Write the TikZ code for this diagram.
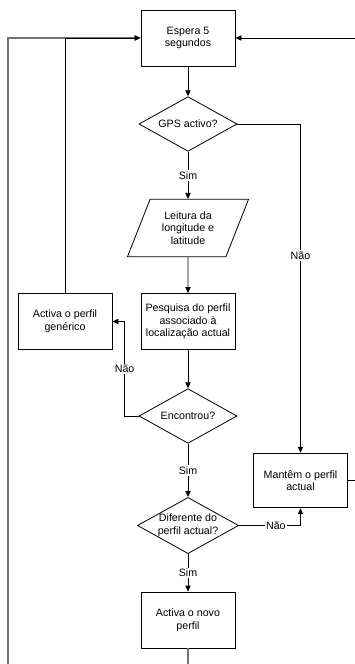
\documentclass[tikz,border=0pt]{standalone}
\usepackage{fontspec}
\setmainfont{Liberation Sans}
\usetikzlibrary{arrows.meta, positioning, shapes.geometric}

\begin{document}
\begin{tikzpicture}[
  x=0.75pt, y=-0.75pt,
  box/.style={draw, minimum width=70.5pt, minimum height=42pt, inner sep=1pt,
              font=\fontsize{8}{9.5}\selectfont, align=center},
  decision/.style={draw, diamond, aspect=1.8, inner sep=0pt,
              minimum width=73.5pt, minimum height=41pt,
              font=\fontsize{8}{9.5}\selectfont, align=center},
  inout/.style={draw, trapezium, trapezium left angle=65.5,
              trapezium right angle=114.5, trapezium stretches=true,
              minimum width=91pt, minimum height=43pt, inner sep=1pt,
              font=\fontsize{8}{9.5}\selectfont, align=center},
  lbl/.style={fill=white, inner sep=1pt, font=\fontsize{8}{9.5}\selectfont},
  >={Triangle[length=4.5pt, width=4pt]}, line width=0.6pt
]
  \useasboundingbox (0,0) rectangle (354,664);

  \node[box]      (wait)    at (188, 38)    {Espera 5\\segundos};
  \node[decision] (gps)     at (188, 124)   {GPS activo?};
  \node[inout]    (read)    at (188, 228)   {Leitura da\\longitude e\\latitude};
  \node[box]      (search)  at (188, 321.5) {Pesquisa do perfil\\associado à\\localização actual};
  \node[box]      (generic) at (65, 321.5)  {Activa o perfil\\genérico};
  \node[decision] (found)   at (188, 416)   {Encontrou?};
  \node[decision] (differ)  at (188, 525.5) {Diferente do\\perfil actual?};
  \node[box, minimum width=71pt, minimum height=41pt]
                  (keep)    at (300.5, 480.5) {Mantêm o perfil\\actual};
  \node[box]      (newp)    at (188, 620)   {Activa o novo\\perfil};
  \coordinate (loopL) at (8, 690);

  % loop back from the last step
  \draw[->, draw=black!55, line width=1pt] (newp.south) |- (loopL) |- (wait.west);

  \draw[->] (wait) -- (gps);
  \draw[->] (gps) -- node[lbl] {Sim} (read);
  \draw[->] (read) -- (search);
  \draw[->] (search) -- (found);
  \draw[->] (found) -- node[lbl] {Sim} (differ);
  \draw[->] (differ) -- node[lbl] {Sim} (newp);

  \draw[->] (gps.east) -| node[lbl, pos=0.7] {Não} (keep.north);
  \draw[->] (differ.east) -| node[lbl, pos=0.3] {Não} (keep.south);
  \draw[->] (found.west) -- ++(-14,0) |- node[lbl, pos=0.25] {Não} (generic.east);
  \draw[->] (generic.north) |- (wait.west);
  \draw[->] (keep.east) -- ++(25,0) |- (wait.east);
\end{tikzpicture}
\end{document}
